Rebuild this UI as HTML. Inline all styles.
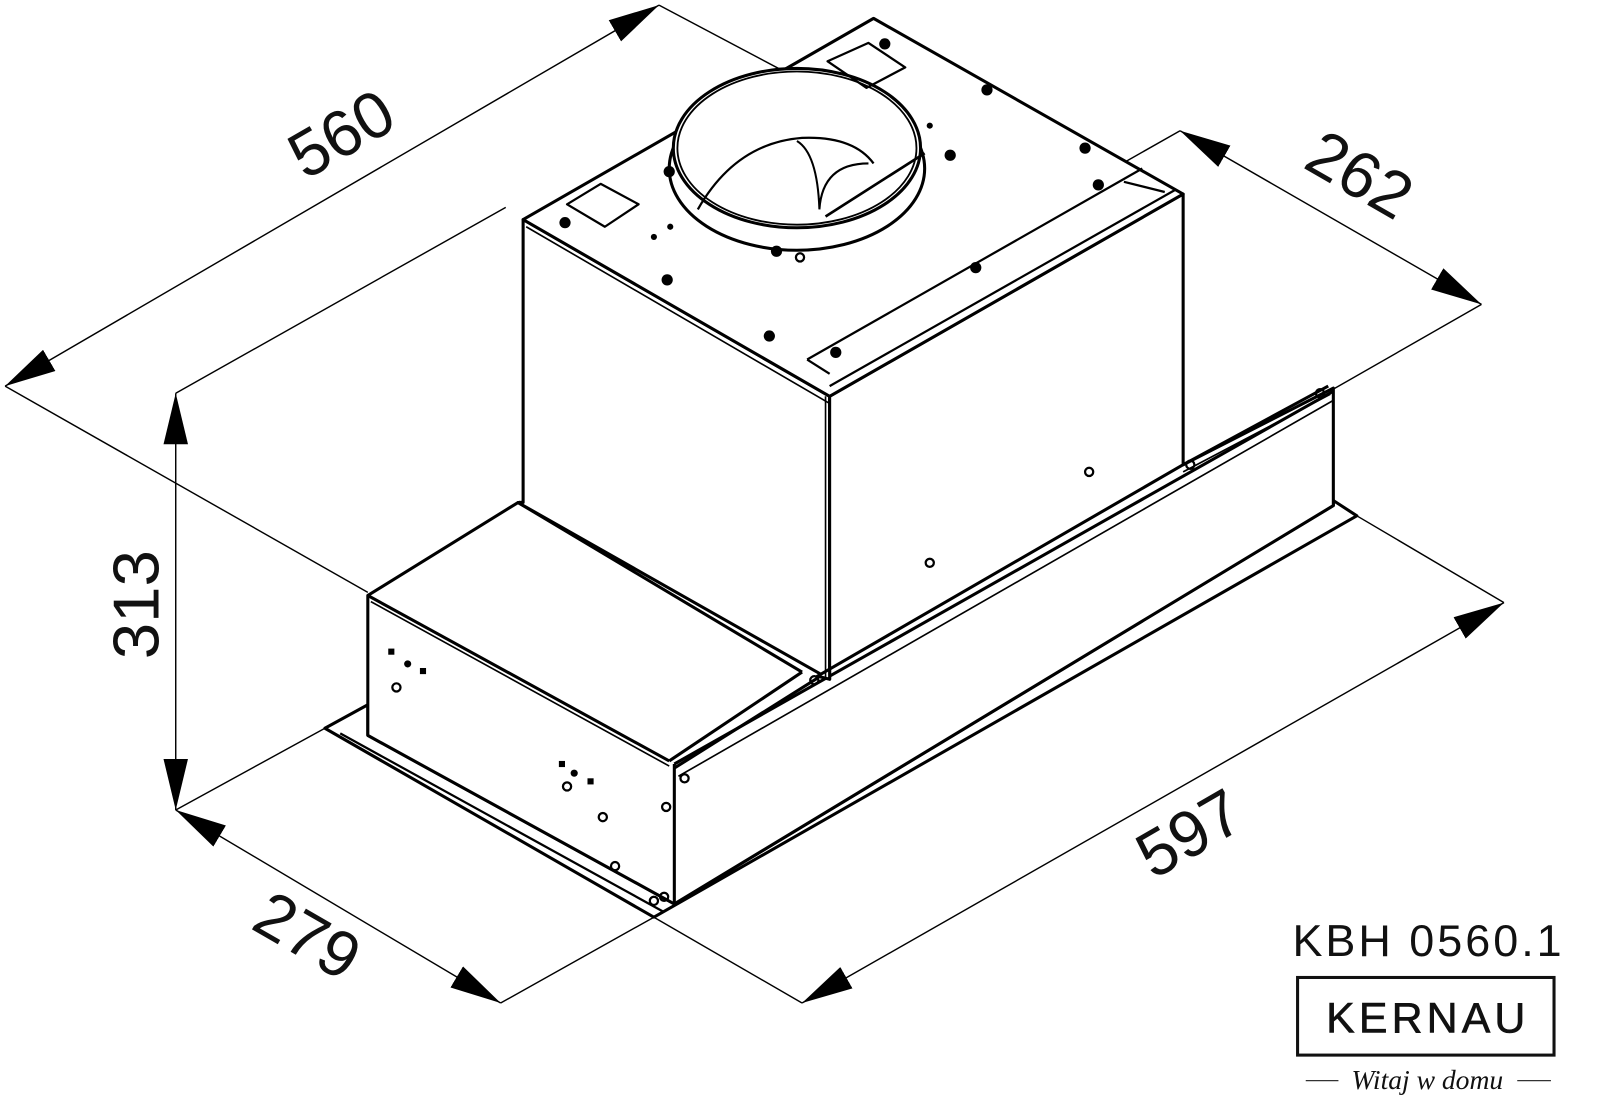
<!DOCTYPE html>
<html><head><meta charset="utf-8"><style>
html,body{margin:0;padding:0;background:#fff;}
svg{display:block;}
text{font-family:"Liberation Sans",sans-serif;fill:#111;}
</style></head><body>
<svg width="1600" height="1098" viewBox="0 0 1566 1075" preserveAspectRatio="none" xmlns="http://www.w3.org/2000/svg">
<defs>
<marker id="a" viewBox="0 0 50 24" refX="50" refY="12" markerWidth="50" markerHeight="24" markerUnits="userSpaceOnUse" orient="auto-start-reverse">
<path d="M0,0 L50,12 L0,24 Z" fill="#000"/></marker>
</defs>
<g stroke="#000" fill="none" stroke-width="1.4">
<line x1="5" y1="378" x2="645" y2="5" marker-start="url(#a)" marker-end="url(#a)"/>
<line x1="645" y1="5" x2="762" y2="67"/>
<line x1="762" y1="67" x2="1160" y2="298" stroke-dasharray="2,5" stroke-width="1.8"/>
<line x1="5" y1="378" x2="360" y2="580"/>
<line x1="1155" y1="128" x2="1450" y2="298" marker-start="url(#a)" marker-end="url(#a)"/>
<line x1="1155" y1="128" x2="1095" y2="162"/>
<line x1="1095" y1="162" x2="507" y2="492" stroke-dasharray="2,5" stroke-width="1.8"/>
<line x1="1450" y1="298" x2="1305" y2="381"/>
<line x1="172" y1="385" x2="172" y2="793" marker-start="url(#a)" marker-end="url(#a)"/>
<line x1="172" y1="385" x2="495" y2="203"/>
<line x1="172" y1="793" x2="318" y2="713"/>
<line x1="172" y1="793" x2="490" y2="982" marker-start="url(#a)" marker-end="url(#a)"/>
<line x1="490" y1="982" x2="640" y2="898"/>
<line x1="785" y1="982" x2="1472" y2="590" marker-start="url(#a)" marker-end="url(#a)"/>
<line x1="640" y1="898" x2="785" y2="982"/>
<line x1="1472" y1="590" x2="1328" y2="505"/>
</g>
<g font-size="64">
<text transform="translate(345,150) rotate(-30)" text-anchor="middle">560</text>
<text transform="translate(1320,190) rotate(30)" text-anchor="middle">262</text>
<text transform="translate(155,592) rotate(-90)" text-anchor="middle">313</text>
<text transform="translate(290,935) rotate(30)" text-anchor="middle">279</text>
<text transform="translate(1175,835) rotate(-30)" text-anchor="middle">597</text>
</g>
<g stroke="#000" fill="#fff" stroke-width="3" stroke-linejoin="round">
<polygon points="318,713 360,690 360,720 660,885 1305,495 1305,490 1328,505 640,898"/>
<line x1="333" y1="718" x2="650" y2="893" stroke-width="2.2"/>
<line x1="660" y1="865" x2="1305" y2="493" stroke-width="2.2"/>
<polygon points="360,583 507,492 1158,455 1305,380 1305,495 660,885 360,720" />
<line x1="360" y1="583" x2="655" y2="745"/>
<line x1="363" y1="589" x2="655" y2="750" stroke-width="1.6"/>
<line x1="660" y1="748" x2="660" y2="885"/>
<line x1="655" y1="745" x2="785" y2="658"/>
<line x1="660" y1="752" x2="800" y2="664"/>
<line x1="507" y1="492" x2="785" y2="658"/>
<line x1="660" y1="748" x2="1305" y2="383"/>
<line x1="664" y1="760" x2="1305" y2="392" stroke-width="1.6"/>
<line x1="1158" y1="455" x2="1300" y2="378"/>
<line x1="1158" y1="462" x2="1302" y2="386" stroke-width="1.6"/>
<polygon points="512,215 812,388 812,665 507,492 512,492"/>
<polygon points="812,388 1158,190 1158,455 800,662 812,665"/>
<polygon points="512,215 855,18 1158,190 812,388"/>
<line x1="515" y1="222" x2="812" y2="395" stroke-width="1.6"/>
<line x1="808" y1="388" x2="808" y2="665" stroke-width="1.6"/>
<line x1="790" y1="352" x2="1118" y2="165" stroke-width="2.2"/>
<line x1="812" y1="378" x2="1150" y2="186" stroke-width="2.2"/>
<line x1="790" y1="352" x2="812" y2="366" stroke-width="2.2"/>
<line x1="1100" y1="178" x2="1140" y2="188" stroke-width="2.2"/>
<ellipse cx="780" cy="165" rx="125" ry="80"/>
<ellipse cx="780" cy="145" rx="121" ry="78"/>
<ellipse cx="780" cy="145" rx="117" ry="75" fill="none" stroke-width="1.8"/>
<path d="M683,205 Q720,140 785,135 Q835,133 855,160" fill="none" stroke-width="2.2"/>
<path d="M780,138 Q800,150 802,205 M802,205 Q805,160 850,160" fill="none" stroke-width="2"/>
<line x1="808" y1="212" x2="905" y2="150" stroke-width="2.6"/>
<polygon points="555,200 588,180 625,200 592,222" fill="none" stroke-width="2.2"/>
<polygon points="810,60 850,42 886,66 848,86" fill="none" stroke-width="2.2"/>
</g>
<g fill="#000">
<circle cx="553" cy="218" r="5.5"/><circle cx="655" cy="168" r="5.5"/><circle cx="656" cy="222" r="3"/><circle cx="640" cy="232" r="3"/>
<circle cx="760" cy="246" r="5.5"/><circle cx="866" cy="43" r="5.5"/><circle cx="966" cy="88" r="5.5"/><circle cx="1062" cy="145" r="5.5"/>
<circle cx="930" cy="152" r="5.5"/><circle cx="910" cy="123" r="3"/><circle cx="1075" cy="181" r="5.5"/><circle cx="955" cy="262" r="5.5"/>
<circle cx="653" cy="274" r="5.5"/><circle cx="753" cy="329" r="5.5"/><circle cx="818" cy="345" r="5.5"/>
</g>
<g fill="none" stroke="#000" stroke-width="2.2">
<circle cx="388" cy="673" r="4"/><circle cx="555" cy="770" r="4"/><circle cx="590" cy="800" r="4"/><circle cx="602" cy="848" r="4"/>
<circle cx="652" cy="790" r="4"/><circle cx="650" cy="878" r="4"/><circle cx="640" cy="882" r="4"/><circle cx="670" cy="762" r="4"/>
<circle cx="797" cy="666" r="4"/><circle cx="1066" cy="462" r="4"/><circle cx="910" cy="551" r="4"/><circle cx="1292" cy="385" r="4"/>
<circle cx="1165" cy="455" r="4"/><circle cx="783" cy="252" r="4"/>
</g>
<g fill="#000">
<rect x="380" y="635" width="6" height="6"/><circle cx="399" cy="650" r="3.5"/><rect x="411" y="654" width="6" height="6"/>
<rect x="547" y="745" width="6" height="6"/><circle cx="562" cy="757" r="3.5"/><rect x="575" y="762" width="6" height="6"/>
</g>
<text x="1265" y="936" font-size="44" letter-spacing="1.5" textLength="265">KBH 0560.1</text>
<rect x="1270" y="957" width="251" height="76" fill="none" stroke="#111" stroke-width="3"/>
<text x="1298" y="1011" font-size="42" textLength="195" stroke="#111" stroke-width="0.6">KERNAU</text>
<line x1="1278" y1="1058" x2="1310" y2="1058" stroke="#333" stroke-width="1.2"/>
<line x1="1485" y1="1058" x2="1518" y2="1058" stroke="#333" stroke-width="1.2"/>
<text x="1397" y="1066" font-size="27" text-anchor="middle" font-style="italic" style="font-family:'Liberation Serif',serif">Witaj w domu</text>
</svg>
</body></html>
